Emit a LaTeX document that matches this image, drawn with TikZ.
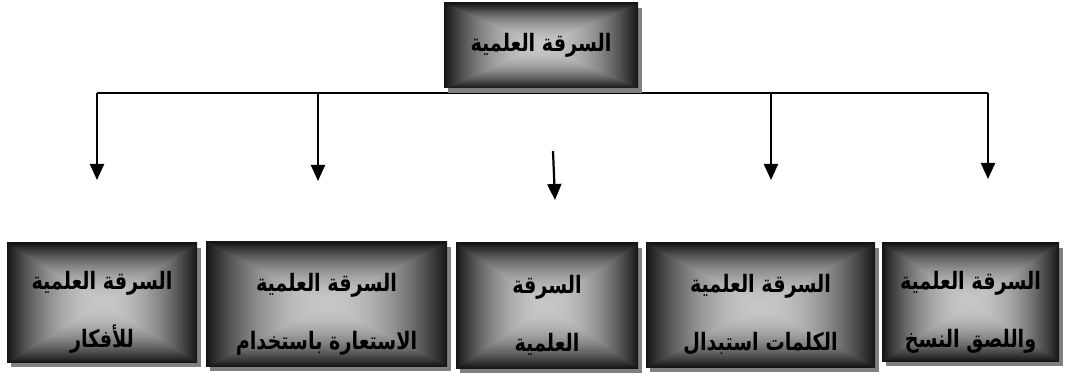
\documentclass[tikz,border=0pt]{standalone}
\usepackage{fontspec}
\newfontfamily\arabicfont[Script=Arabic, FakeStretch=0.8]{DejaVu Sans}
\TeXXeTstate=1
\usetikzlibrary{arrows.meta,shadows}
\pgfdeclarefunctionalshading{rectshade}{\pgfpoint{-50bp}{-50bp}}{\pgfpoint{50bp}{50bp}}{}{
abs exch abs 2 copy gt {pop} {exch pop} ifelse 25 div
dup 1 gt {pop 1} if
dup mul
0.7 mul 0.78 exch sub dup dup
}
\newcommand\tstrut{\rule{0pt}{38pt}}
\tikzset{
  box/.style={shade, shading=rectshade, inner sep=0pt, align=center,
    general shadow={fill=black!50, shadow xshift=4pt, shadow yshift=-5pt},
    font=\arabicfont\bfseries\fontsize{24}{58}\selectfont},
  link/.style={line width=2.2pt},
  arr/.style={line width=2.2pt, -{Triangle[width=14pt,length=16pt]}}
}
\begin{document}
\begin{tikzpicture}[x=1pt,y=-1pt]
\useasboundingbox (0,0) rectangle (1066,374);
% lines first so that the top box covers them
\coordinate (hl) at (97,93);
\coordinate (hr) at (988,93);
\coordinate (a1) at (97,93);   \coordinate (t1) at (97,180);
\coordinate (a2) at (318,93);  \coordinate (t2) at (318,181);
\coordinate (a4) at (771,93);  \coordinate (t4) at (771,180);
\coordinate (a5) at (988,93);  \coordinate (t5) at (988,179);
\coordinate (a3) at (553,151); \coordinate (t3) at (555,200);
\draw[link] (hl) -- (hr);
\draw[arr] (a1) -- (t1);
\draw[arr] (a2) -- (t2);
\draw[arr] (a3) -- (t3);
\draw[arr] (a4) -- (t4);
\draw[arr] (a5) -- (t5);
\node[box, minimum width=194pt, minimum height=85pt] (top) at (541,45.5)
  {\beginR السرقة العلمية\endR};
\node[box, minimum width=190pt, minimum height=119pt] (b1) at (102,302.5)
  {\tstrut\beginR السرقة العلمية\endR\\\beginR للأفكار\endR};
\node[box, minimum width=241pt, minimum height=124pt] (b2) at (326.5,304)
  {\tstrut\beginR السرقة العلمية\endR\\\beginR الاستعارة باستخدام\endR};
\node[box, minimum width=182pt, minimum height=125pt] (b3) at (547,305.5)
  {\tstrut\beginR السرقة\endR\\\beginR العلمية\endR};
\node[box, minimum width=229pt, minimum height=124pt] (b4) at (760.5,305)
  {\tstrut\beginR السرقة العلمية\endR\\\beginR الكلمات استبدال\endR};
\node[box, minimum width=177pt, minimum height=118pt] (b5) at (970.5,302)
  {\tstrut\beginR السرقة العلمية\endR\\\beginR واللصق النسخ\endR};
\end{tikzpicture}
\end{document}
